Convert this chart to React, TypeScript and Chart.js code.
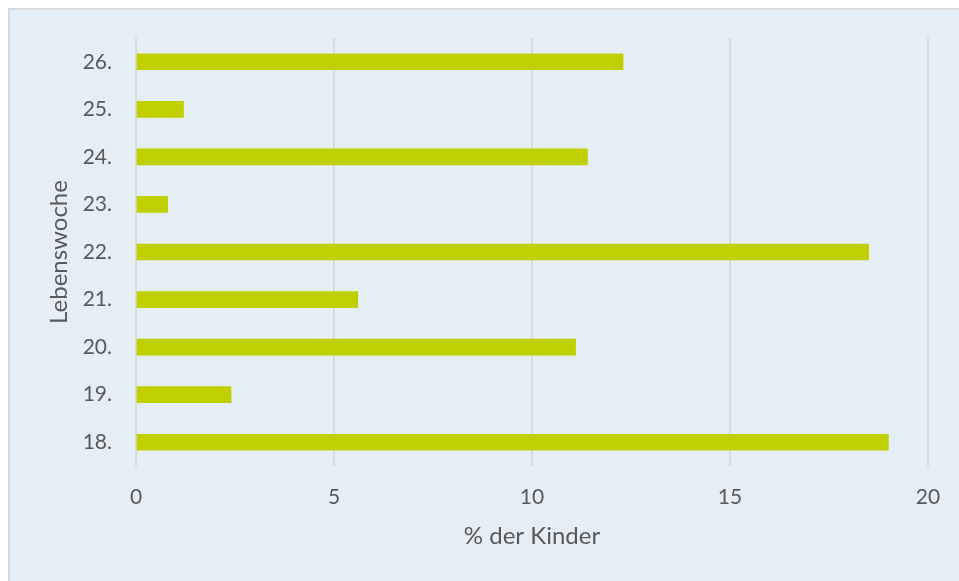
import React, { useEffect, useRef } from "react";
import { Chart, registerables } from "chart.js";

Chart.register(...registerables);

const categories = ["26.", "25.", "24.", "23.", "22.", "21.", "20.", "19.", "18."];
const values = [12.3, 1.2, 11.4, 0.8, 18.5, 5.6, 11.1, 2.4, 19.0];
const xTicks = [0, 5, 10, 15, 20];
const xTitle = "% der Kinder";
const yTitle = "Lebenswoche";

export default function App() {
  const ref = useRef<HTMLCanvasElement | null>(null);
  useEffect(() => {
    document.documentElement.style.overflow = "hidden";
    document.body.style.overflow = "hidden";
    const family = "Lato, 'Noto Sans', sans-serif";
    const tickFont = { family, size: 21 };
    const titleFont = { family, size: 24 };
    const chart = new Chart(ref.current as HTMLCanvasElement, {
      type: "bar",
      data: {
        labels: categories,
        datasets: [
          {
            data: values,
            backgroundColor: "#bed000",
            borderWidth: 0,
            barThickness: 16,
          },
        ],
      },
      options: {
        indexAxis: "y",
        animation: false,
        responsive: false,
        layout: { padding: { left: 0, right: 31, top: 28, bottom: 0 } },
        plugins: { legend: { display: false }, tooltip: { enabled: false } },
        scales: {
          x: {
            min: 0,
            max: 20,
            afterBuildTicks: (s: any) => {
              s.ticks = xTicks.map((v) => ({ value: v }));
            },
            afterFit: (s: any) => {
              s.height = 115;
              s.paddingLeft = 0;
              s.paddingRight = 0;
            },
            grid: { color: "#d9d9d9", lineWidth: 2, drawTicks: false, tickLength: 0 },
            border: { display: false },
            ticks: { color: "#595959", font: tickFont, padding: 19 },
            title: {
              display: true,
              text: xTitle,
              color: "#595959",
              font: titleFont,
              padding: { top: 0, bottom: 30 },
            },
          },
          y: {
            afterFit: (s: any) => {
              s.width = 126;
              s.paddingTop = 0;
              s.paddingBottom = 0;
            },
            grid: { display: false, drawTicks: false },
            border: { display: false },
            ticks: { color: "#595959", font: tickFont, padding: 24 },
            title: {
              display: true,
              text: yTitle,
              color: "#595959",
              font: titleFont,
              padding: { top: 35, bottom: 0 },
            },
          },
        },
      },
    });
    return () => chart.destroy();
  }, []);
  return (
    <div
      style={{
        position: "fixed",
        left: 8,
        top: 8,
        right: 0,
        bottom: 0,
        boxSizing: "border-box",
        borderLeft: "2px solid #d9d9d9",
        borderTop: "2px solid #d9d9d9",
        background: "#e6eef5",
        overflow: "hidden",
      }}
    >
      <canvas ref={ref} width={949} height={571} style={{ display: "block", width: 949, height: 571 }} />
    </div>
  );
}
